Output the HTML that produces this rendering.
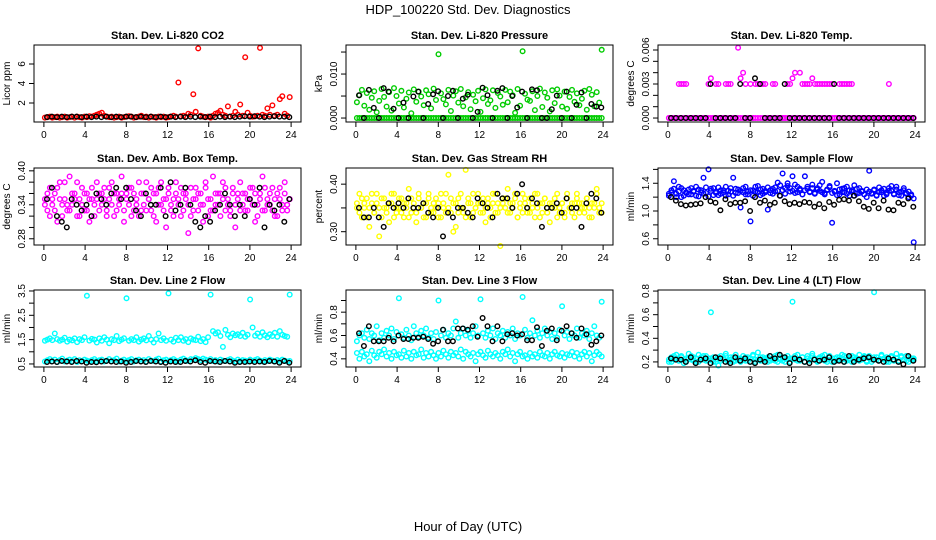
<!DOCTYPE html>
<html><head><meta charset="utf-8"><style>
html,body{margin:0;padding:0;background:#fff;}
svg{display:block;font-family:"Liberation Sans",Arial,sans-serif;}
</style></head><body>
<svg id="chart" width="936" height="540" viewBox="0 0 936 540" xmlns="http://www.w3.org/2000/svg">
<text x="468" y="14" font-size="13" text-anchor="middle">HDP_100220  Std. Dev. Diagnostics</text>
<text x="468" y="531" font-size="13" text-anchor="middle">Hour of Day (UTC)</text>
</svg>
<script>
const xTicks=[0,4,8,12,16,20,24];
const co2Color=[.5,.55,.6,.5,.55,.6,.5,.55,.6,.5,.55,.6,.5,.6,.55,.5,.6,.55,.65,.6,.7,.8,.9,1.0,.7,.6,.55,.6,.5,.55,.6,.5,.55,.6,.65,.6,.5,.55,.6,.7,.55,.6,.5,.6,.55,.5,.6,.55,.6,.5,.55,.6,.7,.6,4.1,.65,.7,.6,.9,.8,2.9,1.1,7.6,.7,.6,.55,.6,.5,.7,.9,1.0,1.2,.8,.7,1.65,.6,.7,1.1,.8,1.85,.7,6.7,1.0,.7,.6,.65,.7,7.65,.8,.7,1.45,.8,1.75,.7,.8,2.4,2.7,.9,.7,2.6];
const co2Black=[.55,.6,.55,.6,.55,.6,.6,.55,.6,.55,.6,.55,.6,.55,.6,.55,.6,.6,.55,.6,.55,.6,.55,.6,.55,.6,.55,.6,.55,.6,.55,.6,.55,.6,.55,.6,.55,.6,.55,.6,.65,.6,.65,.6,.55,.6,.65,.6,.6,.55];
const presColor=[3.6,5.2,6.4,2.8,5.7,1.9,4.6,6.1,1.3,3.9,6.6,4.8,2.6,5.9,1.7,6.8,5.0,3.3,6.2,2.4,4.4,5.8,1.1,6.5,3.7,6.0,4.9,2.9,6.3,5.4,2.2,6.7,4.1,14.5,5.6,4.3,3.1,6.4,1.6,5.1,6.1,3.5,6.6,2.7,4.7,5.9,2.0,5.3,3.8,6.2,1.4,4.5,6.5,3.2,4.0,6.3,2.3,5.7,4.9,3.0,6.4,3.6,6.0,5.2,1.2,6.6,2.8,15.2,5.5,4.2,3.9,6.1,1.8,5.0,6.7,2.5,5.8,4.6,1.5,6.3,3.4,6.5,5.1,2.6,6.0,2.1,4.8,6.4,3.7,5.6,2.9,4.4,6.2,1.9,6.6,5.3,2.7,5.9,3.5,15.5];
const presColorZero=[0,0,0,0,0,0,0,0,0,0,0,0,0,0,0,0,0,0,0,0,0,0,0,0,0,0,0,0,0,0,0,0,0,0,0,0,0,0,0,0,0,0,0,0,0,0,0,0,0,0,0,0,0,0,0,0,0,0,0,0,0,0,0,0,0,0,0,0,0,0,0,0,0,0,0,0,0,0,0,0,0,0,0,0,0,0,0,0,0,0,0,0,0,0,0,0,0,0,0,0];
const presBlack=[5.2,0,6.4,2.3,0,6.8,6.0,2.1,0,3.5,0,4.9,6.0,0,3.2,5.4,6.1,0,5.0,6.2,0,4.4,5.3,0,1.4,6.9,5.2,0,6.2,6.8,0,5.0,2.4,6.0,0,6.5,6.3,0,0,2.0,5.1,0,6.0,0,3.0,5.8,0,3.2,2.6,2.4];
const tempColor=[0,0,0,0,3,3,3,3,0,0,0,0,0,0,0,0,3,3.5,0,3,3,0,0,3,3,3,0,0,6.2,3.5,4,3,0,3,0,3,3,3,3,3,0,0,3,3,0,0,0,0,3,3,3.5,4,0,4,3,3,3,3,3.5,3,3,3,3,3,3,3,3,0,0,3,3,3,3,3,3,0,0,0,0,0,0,0,0,0,0,0,0,0,0,3,0,0,0,0,0,0,0,0,0,0];
const tempColorZero=presColorZero.slice();
const tempBlack=[0,0,0,0,0,0,0,0,3,0,0,0,0,0,3,0,0,3.5,3,0,0,0,0,3,0,0,0,0,0,0,0,0,0,3,0,0,0,0,0,0,0,0,0,0,0,0,0,0,0,0];
const boxColorA=[.35,.33,.37,.34,.36,.31,.38,.34,.35,.33,.39,.34,.36,.32,.35,.37,.33,.36,.31,.35,.34,.38,.33,.36,.35,.32,.37,.34,.36,.33,.35,.39,.31,.36,.34,.37,.33,.35,.32,.36,.34,.38,.35,.33,.36,.31,.37,.34,.35,.30,.36,.33,.35,.38,.34,.32,.36,.35,.29,.37,.33,.35,.36,.34,.31,.37,.35,.33,.39,.34,.36,.32,.35,.37,.34,.33,.36,.30,.35,.38,.34,.36,.33,.35,.37,.31,.34,.36,.39,.33,.35,.34,.37,.32,.36,.35,.33,.38,.34,.35];
const boxColorB=[.34,.36,.32,.35,.33,.37,.35,.32,.38,.34,.33,.36,.35,.38,.32,.34,.36,.33,.35,.37,.32,.35,.36,.34,.37,.33,.35,.38,.32,.36,.34,.36,.33,.35,.37,.32,.36,.34,.38,.33,.36,.33,.35,.37,.32,.36,.34,.38,.33,.35,.37,.34,.32,.36,.35,.37,.33,.36,.34,.32,.35,.37,.33,.36,.34,.38,.32,.35,.33,.36,.34,.36,.38,.33,.35,.32,.37,.34,.36,.33,.36,.33,.35,.37,.34,.36,.32,.35,.33,.37,.34,.36,.33,.35,.32,.37,.34,.36,.33,.35];
const boxBlack=[.35,.37,.32,.31,.30,.35,.34,.33,.34,.32,.36,.35,.34,.36,.37,.35,.37,.35,.33,.32,.36,.34,.34,.37,.32,.38,.33,.34,.37,.34,.31,.30,.32,.31,.33,.34,.36,.34,.32,.34,.32,.35,.34,.37,.30,.34,.33,.34,.31,.35];
const rhColorA=[.36,.38,.33,.35,.37,.31,.36,.34,.38,.35,.33,.37,.35,.32,.36,.38,.34,.35,.37,.33,.36,.39,.34,.35,.32,.37,.35,.36,.33,.38,.35,.34,.37,.36,.33,.35,.38,.42,.34,.36,.31,.37,.35,.34,.43,.36,.33,.38,.35,.36,.34,.37,.32,.36,.35,.38,.34,.36,.27,.37,.35,.39,.34,.36,.37,.33,.35,.38,.36,.34,.37,.35,.33,.38,.36,.34,.37,.35,.32,.36,.35,.38,.34,.36,.33,.37,.35,.34,.36,.38,.34,.36,.35,.37,.33,.36,.35,.39,.34,.36];
const rhColorB=[.35,.34,.37,.36,.33,.35,.38,.34,.36,.29,.37,.35,.34,.36,.38,.33,.35,.37,.34,.36,.35,.33,.37,.36,.34,.38,.35,.33,.36,.37,.34,.36,.35,.33,.38,.36,.34,.35,.37,.30,.36,.34,.38,.35,.33,.37,.36,.34,.35,.38,.36,.34,.35,.37,.33,.36,.38,.34,.35,.36,.37,.34,.36,.35,.38,.33,.36,.34,.37,.35,.34,.36,.38,.35,.33,.36,.37,.34,.36,.35,.37,.33,.35,.36,.34,.38,.35,.36,.33,.37,.36,.35,.34,.37,.35,.33,.36,.38,.35,.34];
const rhBlack=[.35,.33,.33,.35,.33,.31,.36,.35,.36,.35,.37,.35,.35,.36,.34,.33,.35,.29,.34,.33,.35,.35,.34,.33,.37,.36,.35,.33,.38,.37,.37,.35,.38,.40,.35,.37,.36,.31,.35,.35,.36,.34,.37,.35,.35,.31,.36,.38,.37,.34];
const flowColorA=[1.25,1.30,1.43,1.20,1.28,1.33,1.22,1.27,1.31,1.24,1.29,1.35,1.21,1.30,1.48,1.26,1.60,1.32,1.23,1.28,1.34,1.25,1.30,1.22,1.29,1.33,1.48,1.26,1.31,1.05,1.27,1.35,1.24,0.85,1.30,1.28,1.36,1.23,1.32,1.27,1.02,1.30,1.25,1.34,1.29,1.22,1.54,1.33,1.40,1.28,1.50,1.26,1.35,1.30,1.24,1.50,1.32,1.27,1.38,1.25,1.33,1.29,1.42,1.26,1.31,1.36,0.83,1.28,1.40,1.24,1.32,1.27,1.35,1.22,1.30,1.37,1.25,1.33,1.28,1.24,1.31,1.58,1.26,1.30,1.22,1.34,1.27,1.32,1.24,1.29,1.36,1.25,1.31,1.23,1.28,1.33,1.26,1.20,1.24,0.55];
const flowColorB=[1.22,1.27,1.32,1.25,1.35,1.20,1.30,1.26,1.24,1.33,1.28,1.22,1.31,1.27,1.25,1.34,1.21,1.29,1.33,1.26,1.23,1.30,1.27,1.35,1.24,1.28,1.22,1.32,1.26,1.29,1.33,1.24,1.28,1.30,1.22,1.35,1.27,1.31,1.25,1.29,1.34,1.26,1.32,1.28,1.41,1.37,1.30,1.25,1.36,1.33,1.29,1.38,1.27,1.32,1.24,1.30,1.35,1.28,1.33,1.26,1.31,1.37,1.27,1.24,1.30,1.34,1.26,1.29,1.23,1.31,1.27,1.33,1.25,1.30,1.28,1.22,1.32,1.26,1.29,1.24,1.20,1.28,1.25,1.31,1.23,1.27,1.30,1.22,1.26,1.33,1.29,1.24,1.35,1.27,1.22,1.30,1.25,1.28,1.22,1.18];
const flowBlack=[1.20,1.15,1.10,1.08,1.09,1.10,1.11,1.20,1.14,1.12,1.01,1.17,1.10,1.12,1.12,1.14,1.00,1.20,1.12,1.15,1.09,1.12,1.22,1.14,1.10,1.12,1.10,1.13,1.12,1.06,1.10,1.04,1.13,1.09,1.16,1.17,1.15,1.22,1.14,1.06,1.03,1.12,1.04,1.15,1.02,1.01,1.12,1.10,1.18,1.06];
const l2ColorA=[1.45,1.50,1.55,1.48,1.75,1.52,1.45,1.50,1.58,1.42,1.50,1.47,1.55,1.40,1.52,1.48,1.60,3.30,1.46,1.53,1.50,1.38,1.55,1.45,1.60,1.50,1.35,1.52,1.48,1.65,1.44,1.50,1.56,3.20,1.45,1.52,1.48,1.60,1.42,1.50,1.55,1.47,1.65,1.50,1.38,1.52,1.75,1.48,1.55,1.45,3.40,1.50,1.42,1.58,1.48,1.60,1.45,1.52,1.40,1.55,1.50,1.48,1.62,1.44,1.52,1.40,1.60,3.35,1.85,1.75,1.80,1.65,1.20,1.90,1.70,1.60,1.75,1.68,1.72,1.65,1.78,1.62,1.70,3.15,2.00,1.66,1.75,1.62,1.80,1.68,1.60,1.72,1.65,1.78,1.62,1.85,1.70,1.65,1.62,3.35];
const l2ColorB=[.60,.65,.70,.62,.68,.58,.66,.72,.60,.64,.68,.62,.70,.58,.65,.62,.68,.64,.60,.66,.70,.62,.65,.68,.60,.64,.70,.62,.66,.72,.60,.64,.68,.62,.66,.70,.60,.65,.68,.62,.66,.60,.70,.64,.62,.68,.72,.60,.65,.68,.62,.66,.70,.64,.60,.68,.72,.66,.62,.70,.68,.74,.70,.66,.72,.68,.64,.70,.62,.66,.60,.68,.64,.62,.66,.70,.64,.60,.68,.62,.66,.64,.60,.68,.62,.66,.70,.64,.60,.66,.62,.68,.64,.60,.66,.62,.68,.64,.60,.62];
const l2Black=[.58,.60,.58,.62,.60,.58,.62,.60,.55,.58,.57,.60,.62,.60,.58,.60,.55,.58,.62,.60,.58,.62,.60,.58,.55,.60,.58,.58,.62,.60,.65,.58,.55,.62,.60,.58,.62,.60,.55,.58,.58,.60,.58,.60,.58,.62,.60,.55,.62,.55];
const l3ColorA=[.55,.60,.62,.58,.65,.57,.62,.60,.68,.56,.62,.58,.64,.60,.66,.57,.63,.92,.61,.58,.65,.60,.56,.68,.62,.59,.64,.60,.66,.58,.62,.57,.63,.90,.60,.65,.58,.62,.60,.66,.72,.58,.62,.66,.60,.64,.58,.62,.68,.60,.91,.62,.58,.64,.60,.66,.57,.62,.60,.64,.58,.63,.60,.66,.57,.62,.60,.93,.65,.58,.62,.73,.60,.64,.58,.62,.66,.60,.63,.57,.62,.58,.65,.85,.60,.63,.57,.62,.60,.66,.58,.62,.60,.64,.57,.62,.68,.60,.58,.89];
const l3ColorB=[.45,.40,.46,.42,.44,.38,.47,.43,.41,.46,.44,.48,.42,.45,.40,.46,.43,.44,.41,.47,.42,.45,.40,.46,.43,.44,.48,.41,.45,.42,.46,.43,.40,.45,.42,.47,.44,.41,.46,.43,.45,.42,.48,.40,.46,.44,.42,.45,.38,.44,.46,.43,.41,.47,.44,.42,.45,.43,.40,.46,.44,.48,.42,.45,.38,.44,.46,.42,.43,.40,.45,.42,.44,.41,.46,.43,.42,.45,.40,.44,.46,.43,.42,.45,.41,.44,.43,.46,.42,.45,.40,.44,.46,.42,.45,.38,.43,.46,.44,.42];
const l3Black=[.62,.51,.68,.55,.55,.55,.58,.55,.60,.57,.57,.58,.58,.59,.57,.53,.55,.65,.55,.55,.66,.66,.65,.68,.59,.75,.68,.55,.68,.55,.61,.62,.60,.61,.56,.56,.67,.51,.64,.66,.56,.64,.68,.62,.58,.66,.61,.52,.55,.60];
const l4ColorA=[.20,.24,.22,.26,.21,.25,.19,.23,.27,.22,.24,.20,.26,.22,.25,.21,.23,.62,.24,.20,.17,.25,.22,.27,.21,.24,.20,.26,.22,.23,.25,.21,.24,.20,.26,.22,.28,.21,.24,.22,.20,.25,.23,.21,.26,.22,.24,.20,.25,.23,.71,.22,.26,.21,.24,.20,.25,.22,.27,.23,.21,.24,.22,.26,.20,.25,.23,.21,.24,.22,.26,.20,.24,.22,.25,.21,.23,.26,.22,.24,.20,.25,.22,.79,.24,.21,.26,.22,.24,.20,.25,.22,.27,.21,.24,.22,.25,.20,.23,.22];
const l4ColorB=[.22,.20,.25,.23,.21,.24,.22,.20,.23,.25,.21,.23,.20,.24,.22,.25,.21,.23,.20,.22,.24,.21,.23,.25,.20,.22,.24,.21,.23,.20,.22,.24,.21,.23,.25,.20,.22,.24,.21,.23,.24,.21,.22,.25,.20,.23,.21,.24,.22,.20,.23,.25,.21,.22,.24,.20,.23,.21,.25,.22,.20,.23,.25,.21,.22,.24,.20,.23,.21,.24,.22,.25,.21,.23,.20,.24,.22,.21,.23,.25,.21,.23,.20,.24,.22,.21,.25,.23,.20,.22,.24,.21,.23,.20,.25,.22,.21,.24,.22,.23];
const l4Black=[.23,.22,.22,.20,.24,.19,.22,.23,.19,.24,.23,.20,.19,.24,.21,.23,.20,.19,.22,.20,.25,.23,.26,.24,.19,.23,.22,.20,.19,.22,.21,.22,.24,.20,.21,.20,.25,.20,.22,.23,.24,.22,.21,.20,.23,.22,.20,.18,.25,.21];

const NS='http://www.w3.org/2000/svg';
const svg=document.getElementById('chart');
const colL=[34,346,658], rowT=[45,168,290], W=267, H=77;
function mk(tag,attrs,parent){const e=document.createElementNS(NS,tag);for(const k in attrs)e.setAttribute(k,attrs[k]);(parent||svg).appendChild(e);return e;}
function colorHours(n){const h=[];for(let i=0;i<n;i++)h.push(i*0.24+0.1);return h;}
function blackHours(n){const h=[];for(let i=0;i<n;i++)h.push(i*0.48+0.3);return h;}
const panels=[
 {name:'co2',title:'Stan. Dev. Li-820 CO2',ylab:'Licor ppm',dom:[0.05,7.95],ticks:[2,4,6],labs:[2,4,6],scale:1,fmt:v=>String(v),series:[[co2Color,'#ff0000'],[co2Black,'#000']]},
 {name:'pressure',title:'Stan. Dev. Li-820 Pressure',ylab:'kPa',dom:[-0.0009,0.0166],ticks:[0,0.005,0.010,0.015],labs:[0,0.010],scale:0.001,fmt:v=>v.toFixed(3),series:[[presColorZero,'#00cc00'],[presColor,'#00cc00'],[presBlack,'#000']]},
 {name:'temp',title:'Stan. Dev. Li-820 Temp.',ylab:'degrees C',dom:[-0.00035,0.00644],ticks:[0,0.001,0.002,0.003,0.004,0.005,0.006],labs:[0,0.003,0.006],scale:0.001,fmt:v=>v.toFixed(3),series:[[tempColorZero,'#ff00ff'],[tempColor,'#ff00ff'],[tempBlack,'#000']]},
 {name:'ambbox',title:'Stan. Dev. Amb. Box Temp.',ylab:'degrees C',dom:[0.269,0.405],ticks:[0.28,0.30,0.32,0.34,0.36,0.38,0.40],labs:[0.28,0.34,0.40],scale:1,fmt:v=>v.toFixed(2),series:[[boxColorA,'#ff00ff'],[boxColorB,'#ff00ff'],[boxBlack,'#000']]},
 {name:'rh',title:'Stan. Dev. Gas Stream RH',ylab:'percent',dom:[0.272,0.434],ticks:[0.30,0.35,0.40],labs:[0.30,0.40],scale:1,fmt:v=>v.toFixed(2),series:[[rhColorA,'#ffff00'],[rhColorB,'#ffff00'],[rhBlack,'#000']]},
 {name:'sampleflow',title:'Stan. Dev. Sample Flow',ylab:'ml/min',dom:[0.51,1.62],ticks:[0.6,0.8,1.0,1.2,1.4,1.6],labs:[0.6,1.0,1.4],scale:1,fmt:v=>v.toFixed(1),series:[[flowColorA,'#0000ff'],[flowColorB,'#0000ff'],[flowBlack,'#000']]},
 {name:'line2',title:'Stan. Dev. Line 2 Flow',ylab:'ml/min',dom:[0.375,3.54],ticks:[0.5,1,1.5,2,2.5,3,3.5],labs:[0.5,1.5,2.5,3.5],scale:1,fmt:v=>v.toFixed(1),series:[[l2ColorA,'#00ffff'],[l2ColorB,'#00ffff'],[l2Black,'#000']]},
 {name:'line3',title:'Stan. Dev. Line 3 Flow',ylab:'ml/min',dom:[0.33,0.99],ticks:[0.4,0.5,0.6,0.7,0.8,0.9],labs:[0.4,0.6,0.8],scale:1,fmt:v=>v.toFixed(1),series:[[l3ColorA,'#00ffff'],[l3ColorB,'#00ffff'],[l3Black,'#000']]},
 {name:'line4',title:'Stan. Dev. Line 4 (LT) Flow',ylab:'ml/min',dom:[0.157,0.809],ticks:[0.2,0.3,0.4,0.5,0.6,0.7,0.8],labs:[0.2,0.4,0.6,0.8],scale:1,fmt:v=>v.toFixed(1),series:[[l4ColorA,'#00ffff'],[l4ColorB,'#00ffff'],[l4Black,'#000']]}
];
panels.forEach((p,k)=>{
 const L=colL[k%3], T=rowT[Math.floor(k/3)];
 const g=mk('g',{});
 
 
 const xs=h=>L+(h+0.96)/25.92*W;
 const ys=v=>T+H-(v-p.dom[0])/(p.dom[1]-p.dom[0])*H;
 const t=mk('text',{x:L+W/2,y:T-6,'font-size':11,'font-weight':'bold','text-anchor':'middle'},g);
 t.textContent=p.title;
 
 
 const pts=mk('g',{fill:'none','stroke-width':1.4},g);
 
 
 p.series.forEach(([vals,col])=>{
  const hrs=vals.length>60?colorHours(vals.length):blackHours(vals.length);
  vals.forEach((v,i)=>{
   const c=mk('circle',{cx:xs(hrs[i]).toFixed(1),cy:ys(v*p.scale).toFixed(1),r:2.3,stroke:col},pts);
   
   
  });
 });
 const box=mk('rect',{x:L,y:T,width:W,height:H,fill:'none',stroke:'#000','stroke-width':1},g);
 
 
 const xa=mk('g',{},g);
 
 
 xTicks.forEach(h=>{
  mk('line',{x1:xs(h),x2:xs(h),y1:T+H,y2:T+H+5,stroke:'#000'},xa);
  const tx=mk('text',{x:xs(h),y:T+H+16,'font-size':10,'text-anchor':'middle'},xa);
  tx.textContent=h;
 });
 const ya=mk('g',{},g);
 
 
 p.ticks.forEach(v=>{mk('line',{x1:L-5,x2:L,y1:ys(v),y2:ys(v),stroke:'#000'},ya);});
 p.labs.forEach(v=>{
  const y=ys(v);
  const tx=mk('text',{x:L-9,y:y,'font-size':10,'text-anchor':'middle',transform:`rotate(-90 ${L-9} ${y})`},ya);
  tx.textContent=p.fmt(v);
 });
 const yl=mk('text',{x:L-24,y:T+H/2,'font-size':10,'text-anchor':'middle',transform:`rotate(-90 ${L-24} ${T+H/2})`},g);
 yl.textContent=p.ylab;
 
 
});
</script>
</body></html>
